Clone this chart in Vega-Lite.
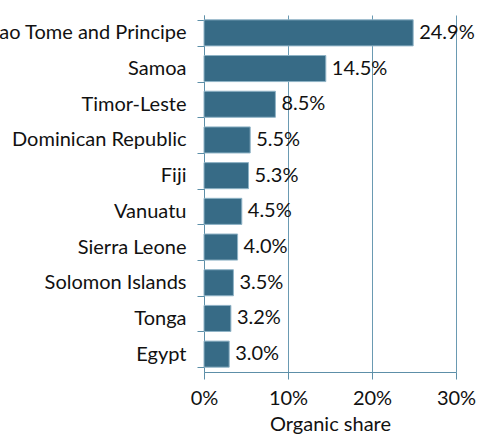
{
  "$schema": "https://vega.github.io/schema/vega-lite/v6.json",
  "autosize": {"type": "none"},
  "padding": {"left": 204, "top": 15, "right": 21, "bottom": 65},
  "width": 252,
  "height": 357,
  "background": "white",
  "config": {"view": {"stroke": null}, "font": "Lato"},
  "data": {"values": [
    {"country": "Sao Tome and Principe", "share": 0.249},
    {"country": "Samoa", "share": 0.145},
    {"country": "Timor-Leste", "share": 0.085},
    {"country": "Dominican Republic", "share": 0.055},
    {"country": "Fiji", "share": 0.053},
    {"country": "Vanuatu", "share": 0.045},
    {"country": "Sierra Leone", "share": 0.040},
    {"country": "Solomon Islands", "share": 0.035},
    {"country": "Tonga", "share": 0.032},
    {"country": "Egypt", "share": 0.030}
  ]},
  "encoding": {
    "y": {"field": "country", "type": "nominal", "sort": null, "title": null,
      "scale": {"paddingInner": 0.27, "paddingOuter": 0.135},
      "axis": {"labelFontSize": 20, "labelColor": "#111", "labelPadding": 11, "labelLimit": 400, "tickBand": "extent", "tickSize": 7, "tickColor": "#5d8fa8", "domainColor": "#5d8fa8", "labelFontWeight": "normal"}},
    "x": {"field": "share", "type": "quantitative", "title": "Organic share",
      "scale": {"domain": [0, 0.3]},
      "axis": {"values": [0, 0.1, 0.2, 0.3], "format": ".0%", "labelFlush": false, "labelFontSize": 20, "labelColor": "#111", "labelFontWeight": "normal", "titleFontSize": 20, "titleFontWeight": "normal", "titleColor": "#111", "titlePadding": 6, "tickSize": 7, "tickColor": "#5d8fa8", "domainColor": "#5d8fa8", "gridColor": "#6a9ab2", "gridOpacity": 1, "labelPadding": 9}}
  },
  "layer": [
    {"mark": {"type": "bar", "color": "#376b86", "stroke": "#8fb3c6", "strokeWidth": 1}},
    {"mark": {"type": "text", "align": "left", "dx": 6, "fontSize": 20, "color": "#111"},
      "encoding": {"text": {"field": "share", "type": "quantitative", "format": ".1%"}}}
  ]
}
